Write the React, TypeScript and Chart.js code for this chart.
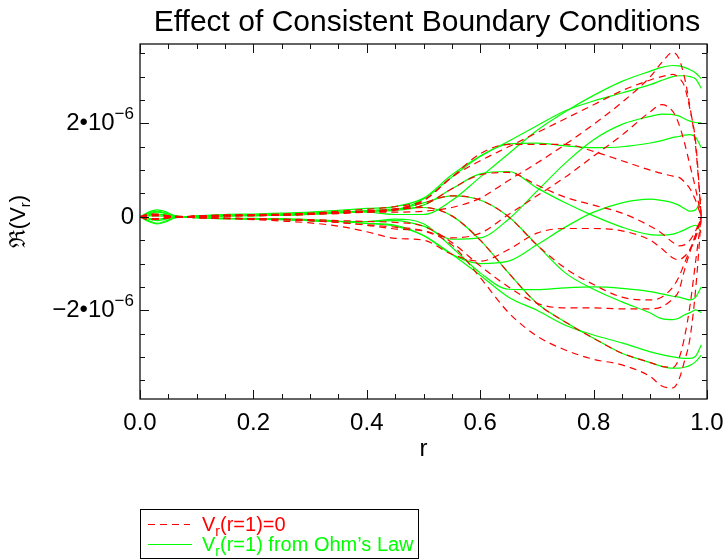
import React, { useEffect, useRef } from "react";
import { Chart, registerables } from "chart.js";

Chart.register(...registerables);

// radial coordinate samples
const rGrid = [0, 0.015, 0.03, 0.045, 0.06, 0.08, 0.1, 0.15, 0.2, 0.25, 0.3, 0.35, 0.4, 0.45, 0.5, 0.55, 0.6, 0.65, 0.7, 0.75, 0.8, 0.85, 0.9, 0.92, 0.94, 0.95, 0.96, 0.97, 0.98, 0.99];

// values in units of 1e-6 — green: V_r(r=1) from Ohm's Law
const gA = [0, 0.08, 0.12, 0.08, 0.02, 0.0, 0.01, 0.04, 0.02, 0.05, 0.08, 0.1, 0.1, 0.05, 0.05, 0.35, 0.85, 1.35, 1.85, 2.25, 2.6, 2.9, 3.12, 3.2, 3.24, 3.23, 3.2, 3.15, 3.08, 2.96];
const gB = [0, 0.1, 0.15, 0.11, 0.03, 0.0, 0.02, 0.05, 0.06, 0.08, 0.1, 0.14, 0.18, 0.22, 0.4, 0.9, 1.3, 1.62, 1.95, 2.27, 2.48, 2.65, 2.83, 2.92, 3.0, 3.02, 3.02, 3.0, 2.95, 2.75];
const gC = [0, -0.05, -0.08, -0.05, -0.01, 0.0, -0.02, -0.04, -0.03, -0.05, -0.08, -0.1, -0.1, -0.08, -0.2, -0.48, -0.45, -0.05, 0.55, 1.15, 1.65, 1.98, 2.15, 2.2, 2.19, 2.16, 2.1, 2.05, 2.02, 2.01];
const gD = [0, 0.06, 0.1, 0.07, 0.02, 0.0, 0.01, 0.03, 0.05, 0.04, 0.06, 0.1, 0.12, 0.15, 0.38, 0.85, 1.29, 1.56, 1.58, 1.52, 1.48, 1.5, 1.58, 1.63, 1.7, 1.72, 1.75, 1.76, 1.7, 1.48];
const gE = [0, -0.08, -0.14, -0.09, -0.02, 0.0, -0.02, -0.04, -0.05, -0.06, -0.08, -0.1, -0.14, -0.18, -0.4, -0.8, -1.0, -0.95, -0.6, -0.22, 0.1, 0.3, 0.38, 0.35, 0.3, 0.25, 0.18, 0.12, 0.15, 0.38];
const gF = [0, 0.04, 0.06, 0.04, 0.01, 0.0, 0.02, 0.02, 0.04, 0.06, 0.08, 0.1, 0.13, 0.14, 0.25, 0.6, 0.92, 0.97, 0.62, 0.3, 0.02, -0.22, -0.38, -0.39, -0.37, -0.33, -0.28, -0.22, -0.18, -0.34];
const gG = [0, -0.1, -0.15, -0.11, -0.03, 0.0, -0.02, -0.03, -0.05, -0.06, -0.08, -0.1, -0.1, -0.05, -0.15, -0.65, -1.2, -1.55, -1.56, -1.52, -1.5, -1.53, -1.6, -1.65, -1.7, -1.72, -1.75, -1.78, -1.72, -1.5];
const gH = [0, 0.03, 0.05, 0.03, 0.0, 0.0, 0.0, 0.02, 0.03, 0.03, 0.05, 0.08, 0.12, 0.15, 0.3, 0.45, 0.36, 0.0, -0.6, -1.2, -1.55, -1.82, -2.06, -2.18, -2.2, -2.17, -2.1, -2.05, -1.99, -2.05];
const gI = [0, -0.03, -0.05, -0.03, -0.01, 0.0, -0.01, -0.03, -0.04, -0.04, -0.06, -0.09, -0.14, -0.2, -0.4, -0.8, -1.25, -1.72, -2.0, -2.32, -2.53, -2.7, -2.89, -2.95, -3.0, -3.02, -3.03, -3.03, -2.98, -2.74];
const gJ = [0, 0.02, 0.02, 0.01, 0.0, 0.0, 0.01, 0.02, 0.03, 0.04, 0.06, 0.09, 0.13, 0.17, 0.2, 0.02, -0.5, -1.2, -1.85, -2.25, -2.6, -2.92, -3.12, -3.2, -3.24, -3.24, -3.22, -3.18, -3.1, -2.96];

// values in units of 1e-6 — red: V_r(r=1)=0
const rA = [0, 0.06, 0.05, 0.03, 0.01, 0.0, 0.02, 0.03, 0.02, 0.04, 0.06, 0.08, 0.1, 0.1, 0.12, 0.2, 0.4, 0.78, 1.15, 1.55, 1.98, 2.45, 3.0, 3.3, 3.52, 3.4, 3.0, 2.35, 1.5, 0];
const rB = [0, 0.05, 0.06, 0.03, 0.01, 0.01, 0.02, 0.04, 0.05, 0.06, 0.08, 0.12, 0.16, 0.22, 0.35, 0.85, 1.2, 1.5, 1.8, 2.1, 2.4, 2.7, 2.93, 3.0, 3.05, 2.98, 2.8, 2.3, 1.6, 0];
const rC = [0, -0.05, -0.04, -0.02, 0.0, 0.0, -0.02, -0.03, -0.04, -0.06, -0.08, -0.12, -0.18, -0.26, -0.3, -0.45, -0.35, 0.05, 0.45, 0.85, 1.3, 1.75, 2.25, 2.4, 2.25, 2.0, 1.6, 1.1, 0.6, 0];
const rD = [0, 0.04, 0.03, 0.02, 0.0, 0.0, 0.01, 0.03, 0.04, 0.05, 0.06, 0.09, 0.12, 0.17, 0.35, 0.85, 1.35, 1.55, 1.55, 1.55, 1.4, 1.2, 1.0, 0.93, 0.87, 0.85, 0.75, 0.6, 0.35, 0];
const rE = [0, -0.06, -0.05, -0.03, -0.01, 0.0, -0.02, -0.04, -0.06, -0.09, -0.13, -0.2, -0.32, -0.46, -0.5, -0.8, -0.95, -0.7, -0.35, -0.25, -0.25, -0.3, -0.5, -0.68, -0.88, -0.92, -0.85, -0.7, -0.45, 0];
const rF = [0, 0.03, 0.04, 0.02, 0.0, 0.0, 0.02, 0.02, 0.03, 0.05, 0.07, 0.09, 0.12, 0.16, 0.25, 0.6, 0.9, 0.95, 0.68, 0.42, 0.25, 0.08, -0.2, -0.35, -0.55, -0.62, -0.6, -0.5, -0.3, 0];
const rG = [0, -0.04, -0.05, -0.03, 0.0, 0.0, -0.01, -0.03, -0.04, -0.05, -0.06, -0.08, -0.1, -0.12, -0.2, -0.55, -1.05, -1.5, -1.85, -1.95, -1.95, -1.97, -1.97, -1.93, -1.75, -1.6, -1.15, -0.75, -0.38, 0];
const rH = [0, 0.02, 0.03, 0.02, 0.0, 0.0, 0.0, 0.02, 0.03, 0.03, 0.05, 0.07, 0.1, 0.14, 0.3, 0.45, 0.36, 0.0, -0.6, -1.1, -1.45, -1.72, -1.78, -1.72, -1.5, -1.3, -1.0, -0.7, -0.38, 0];
const rI = [0, -0.03, -0.04, -0.02, 0.0, 0.0, -0.01, -0.03, -0.04, -0.06, -0.08, -0.12, -0.17, -0.22, -0.3, -0.6, -1.3, -2.05, -2.55, -2.85, -3.05, -3.17, -3.42, -3.62, -3.66, -3.5, -3.1, -2.6, -1.55, 0];
const rJ = [0, 0.02, 0.02, 0.01, 0.0, 0.0, 0.01, 0.02, 0.03, 0.04, 0.06, 0.09, 0.12, 0.16, 0.2, 0.02, -0.5, -1.2, -1.85, -2.25, -2.6, -2.92, -3.12, -3.2, -3.22, -3.05, -2.6, -1.9, -0.95, 0];

const greenSeries = [gA, gB, gC, gD, gE, gF, gG, gH, gI, gJ];
const redSeries = [rA, rB, rC, rD, rE, rF, rG, rH, rI, rJ];
const unit = 1e-6;

const titleText = "Effect of Consistent Boundary Conditions";
const xTickValues = [0, 0.2, 0.4, 0.6, 0.8, 1.0];
const xTickLabels = ["0.0", "0.2", "0.4", "0.6", "0.8", "1.0"];
const yTickValues = [-2e-6, 0, 2e-6];
const yTickLabels = [["\u22122\u202210", "\u22126"], ["0", ""], ["2\u202210", "\u22126"]];
const legendLabels = ["(r=1)=0", "(r=1) from Ohm\u2019s Law"];

const RED = "#ff0000";
const GREEN = "#00ff00";
const FONT = "'Liberation Sans', Arial, Helvetica, sans-serif";

type Part = { t: string; size: number; dy: number };

function richWidth(ctx: CanvasRenderingContext2D, parts: Part[]) {
  let w = 0;
  for (const p of parts) {
    ctx.font = `${p.size}px ${FONT}`;
    w += ctx.measureText(p.t).width;
  }
  return w;
}

function drawRich(ctx: CanvasRenderingContext2D, x: number, y: number, parts: Part[], align: "left" | "right" | "center") {
  const w = richWidth(ctx, parts);
  let cx = align === "left" ? x : align === "right" ? x - w : x - w / 2;
  ctx.textAlign = "left";
  ctx.textBaseline = "alphabetic";
  for (const p of parts) {
    ctx.font = `${p.size}px ${FONT}`;
    ctx.fillText(p.t, cx, y + p.dy);
    cx += ctx.measureText(p.t).width;
  }
}

const decorPlugin = {
  id: "decor",
  afterDraw(chart: any) {
    const ctx: CanvasRenderingContext2D = chart.ctx;
    const { left, right, top, bottom } = chart.chartArea;
    const xs = chart.scales.x;
    const ys = chart.scales.y;
    ctx.save();
    ctx.setLineDash([]);
    ctx.strokeStyle = "#111";
    ctx.lineWidth = 1.3;
    ctx.strokeRect(left, top, right - left, bottom - top);

    // x ticks (inward, bottom and top)
    ctx.lineWidth = 1;
    ctx.beginPath();
    for (let i = 0; i <= 20; i++) {
      const v = i * 0.05;
      const px = Math.round(xs.getPixelForValue(v)) + 0.5;
      const len = i % 4 === 0 ? 9 : 5;
      ctx.moveTo(px, bottom);
      ctx.lineTo(px, bottom - len);
      ctx.moveTo(px, top);
      ctx.lineTo(px, top + len);
    }
    // y ticks (inward, left and right)
    for (let i = -7; i <= 7; i++) {
      const v = i * 0.5e-6;
      const py = Math.round(ys.getPixelForValue(v)) + 0.5;
      const len = i % 4 === 0 ? 9 : 5;
      ctx.moveTo(left, py);
      ctx.lineTo(left + len, py);
      ctx.moveTo(right, py);
      ctx.lineTo(right - len, py);
    }
    ctx.stroke();

    ctx.fillStyle = "#000";
    // x tick labels
    xTickValues.forEach((v, i) => {
      drawRich(ctx, xs.getPixelForValue(v), 430, [{ t: xTickLabels[i], size: 24, dy: 0 }], "center");
    });
    // y tick labels
    yTickValues.forEach((v, i) => {
      const [base, sup] = yTickLabels[i];
      const parts: Part[] = [{ t: base, size: 24, dy: 0 }];
      if (sup) parts.push({ t: sup, size: 17, dy: -11 });
      drawRich(ctx, left - 6, ys.getPixelForValue(v) + 7, parts, "right");
    });
    // x title
    drawRich(ctx, (left + right) / 2, 456, [{ t: "r", size: 24, dy: 0 }], "center");
    // y title (rotated)
    ctx.save();
    ctx.translate(25, (top + bottom) / 2);
    ctx.rotate(-Math.PI / 2);
    drawRich(ctx, 0, 0, [
      { t: "\u211C(V", size: 22, dy: 0 },
      { t: "r", size: 15, dy: 5 },
      { t: ")", size: 22, dy: 0 },
    ], "center");
    ctx.restore();

    // title
    drawRich(ctx, 427, 31, [{ t: titleText, size: 30, dy: 0 }], "center");

    // legend
    ctx.lineWidth = 1;
    ctx.strokeStyle = "#000";
    ctx.strokeRect(140.5, 509.5, 278, 49);
    ctx.strokeStyle = RED;
    ctx.setLineDash([7, 5]);
    ctx.beginPath();
    ctx.moveTo(148, 524.5);
    ctx.lineTo(190, 524.5);
    ctx.stroke();
    ctx.setLineDash([]);
    ctx.strokeStyle = GREEN;
    ctx.beginPath();
    ctx.moveTo(148, 544.5);
    ctx.lineTo(192, 544.5);
    ctx.stroke();
    ctx.fillStyle = RED;
    drawRich(ctx, 202, 531, [
      { t: "V", size: 20, dy: 0 },
      { t: "r", size: 14, dy: 5 },
      { t: legendLabels[0], size: 20, dy: 0 },
    ], "left");
    ctx.fillStyle = GREEN;
    drawRich(ctx, 202, 551, [
      { t: "V", size: 20, dy: 0 },
      { t: "r", size: 14, dy: 5 },
      { t: legendLabels[1], size: 20, dy: 0 },
    ], "left");
    ctx.restore();
  },
};

export default function App() {
  const canvasRef = useRef<HTMLCanvasElement | null>(null);

  useEffect(() => {
    const canvas = canvasRef.current;
    if (!canvas) return;
    const toPoints = (arr: number[]) => arr.map((v, i) => ({ x: rGrid[i], y: v * unit }));
    const datasets: any[] = [];
    redSeries.forEach((s, i) => {
      datasets.push({
        label: `red${i}`,
        data: toPoints(s),
        borderColor: RED,
        borderWidth: 1.2,
        borderDash: [7, 5],
        pointRadius: 0,
        fill: false,
        cubicInterpolationMode: "monotone",
      });
    });
    greenSeries.forEach((s, i) => {
      datasets.push({
        label: `green${i}`,
        data: toPoints(s),
        borderColor: GREEN,
        borderWidth: 1.2,
        pointRadius: 0,
        fill: false,
        cubicInterpolationMode: "monotone",
      });
    });

    const chart = new Chart(canvas, {
      type: "line",
      data: { datasets },
      options: {
        responsive: false,
        animation: false,
        layout: { padding: { left: 140, right: 18, top: 44, bottom: 161 } },
        plugins: { legend: { display: false }, tooltip: { enabled: false }, title: { display: false } },
        scales: {
          x: { type: "linear", min: 0, max: 1, display: false },
          y: { type: "linear", min: -3.9e-6, max: 3.7e-6, display: false },
        },
      },
      plugins: [decorPlugin],
    });
    return () => chart.destroy();
  }, []);

  return (
    <div style={{ position: "fixed", left: 0, top: 0, width: 725, height: 560, background: "#fff" }}>
      <canvas ref={canvasRef} width={725} height={560} style={{ width: 725, height: 560, display: "block" }} />
    </div>
  );
}
